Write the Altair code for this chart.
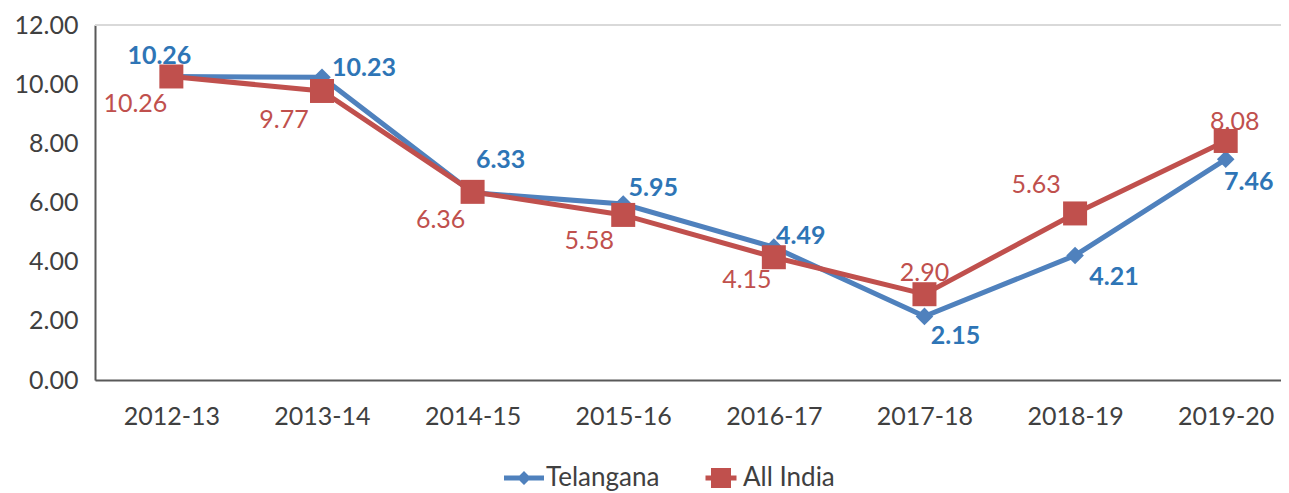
import altair as alt
import pandas as pd

# ---- data ----
categories = ["2012-13", "2013-14", "2014-15", "2015-16", "2016-17", "2017-18", "2018-19", "2019-20"]
telangana = [10.26, 10.23, 6.33, 5.95, 4.49, 2.15, 4.21, 7.46]
all_india = [10.26, 9.77, 6.36, 5.58, 4.15, 2.90, 5.63, 8.08]
series_names = ["Telangana", "All India"]
y_ticks = [0, 2, 4, 6, 8, 10, 12]

# ---- label placement (style: pixel offsets of label centre from its point) ----
tel_dx = [-12, 42, 28, 30, 27, 31, 39, 23]
tel_dy = [-20, -9, -33, -16, -11, 20, 22, 23]
ind_dx = [-36, -38, -32, -34, -27, 0, -39, 9]
ind_dy = [28, 29, 28, 26, 23, -21, -28, -19]

BLUE = "#4F81BD"
RED = "#C0504D"
BLUE_TXT = "#2E75B6"
RED_TXT = "#C0504D"
FONT = "Lato"
FS = 25

rows = []
for i, c in enumerate(categories):
    rows.append(dict(series="Telangana", year=c, value=telangana[i], label=f"{telangana[i]:.2f}"))
    rows.append(dict(series="All India", year=c, value=all_india[i], label=f"{all_india[i]:.2f}"))
df = pd.DataFrame(rows)

y_scale = alt.Scale(domain=[0, 12], nice=False)
x_enc = alt.X("year:N", sort=categories,
              scale=alt.Scale(type="point", padding=0.437, align=0.58),
              axis=alt.Axis(title=None, labelAngle=0, ticks=False, labelPadding=24,
                            domainColor="#595959", domainWidth=2,
                            labelFont=FONT, labelFontSize=FS, labelColor="#404040"))
y_axis = alt.Axis(title=None, values=y_ticks, format=".2f", ticks=False, grid=False,
                  labelPadding=17, domainColor="#595959", domainWidth=2,
                  labelFont=FONT, labelFontSize=FS, labelColor="#404040")
y_enc = alt.Y("value:Q", scale=y_scale, axis=y_axis)

base = alt.Chart(df)
tel = base.transform_filter(alt.datum.series == "Telangana")
ind = base.transform_filter(alt.datum.series == "All India")

tel_line = tel.mark_line(color=BLUE, strokeWidth=5).encode(x=x_enc, y=y_enc)
tel_pts = tel.mark_point(shape="diamond", filled=True, color=BLUE, size=310, opacity=1).encode(x=x_enc, y=y_enc)
ind_line = ind.mark_line(color=RED, strokeWidth=5).encode(x=x_enc, y=y_enc)
ind_pts = ind.mark_point(shape="square", filled=True, color=RED, size=576, opacity=1).encode(x=x_enc, y=y_enc)

top_rule = alt.Chart(pd.DataFrame({"v": [12]})).mark_rule(color="#D9D9D9", strokeWidth=2).encode(
    y=alt.Y("v:Q", scale=y_scale, axis=y_axis))

text_layers = []
for i, c in enumerate(categories):
    text_layers.append(
        tel.transform_filter(alt.datum.year == c).mark_text(
            font=FONT, fontSize=FS, fontWeight="bold", color=BLUE_TXT,
            align="center", baseline="middle", dx=tel_dx[i], dy=tel_dy[i]).encode(
            x=x_enc, y=y_enc, text="label:N"))
    text_layers.append(
        ind.transform_filter(alt.datum.year == c).mark_text(
            font=FONT, fontSize=FS, color=RED_TXT,
            align="center", baseline="middle", dx=ind_dx[i], dy=ind_dy[i]).encode(
            x=x_enc, y=y_enc, text="label:N"))

tel_path = "M-4,-0.5 L4,-0.5 L4,0.5 L-4,0.5 Z M0,-1.4 L1.4,0 L0,1.4 L-1.4,0 Z"
ind_path = "M-3.1,-0.5 L3.1,-0.5 L3.1,0.5 L-3.1,0.5 Z M-2,-2 L2,-2 L2,2 L-2,2 Z"

leg = alt.Legend(title=None, orient="none", direction="horizontal",
                 legendX=416, legendY=440, labelFont=FONT, labelFontSize=26,
                 labelColor="#404040", labelOffset=9, columnPadding=45,
                 symbolSize=100, symbolStrokeWidth=0)
legend_layer = base.transform_filter("false").mark_point(filled=True, opacity=1, size=100).encode(
    x=x_enc, y=y_enc,
    color=alt.Color("series:N", scale=alt.Scale(domain=series_names, range=[BLUE, RED]), legend=leg),
    shape=alt.Shape("series:N", scale=alt.Scale(domain=series_names, range=[tel_path, ind_path]), legend=leg),
)

chart = alt.layer(tel_line, tel_pts, ind_line, ind_pts, *text_layers, top_rule, legend_layer).properties(
    width=1186, height=355,
    autosize=alt.AutoSizeParams(type="none"),
    padding={"left": 87, "top": 17, "right": 0, "bottom": 113},
).configure_view(strokeWidth=0).configure(background="white")

chart.save("out.html", embed_options={"renderer": "svg", "actions": False})
